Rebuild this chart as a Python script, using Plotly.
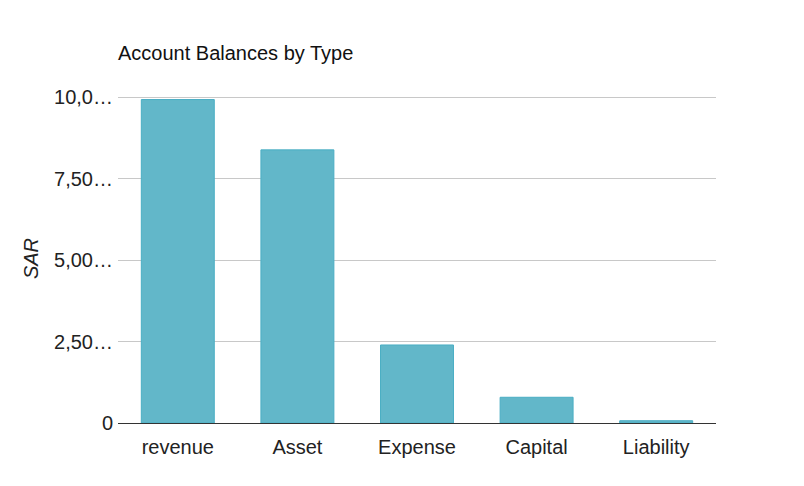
import plotly.graph_objects as go

categories = ["revenue", "Asset", "Expense", "Capital", "Liability"]
balances = [9930, 8385, 2395, 790, 70]
y_tick_vals = [0, 2500, 5000, 7500, 10000]
y_tick_text = ["0", "2,50…", "5,00…", "7,50…", "10,0…"]

fig = go.Figure(
    go.Bar(
        x=categories,
        y=balances,
        marker=dict(color="#62b7c9", line=dict(color="#4aaec4", width=1)),
    )
)

fig.update_layout(
    width=804,
    height=486,
    margin=dict(l=118, r=88, t=94, b=63),
    paper_bgcolor="white",
    plot_bgcolor="white",
    bargap=0.39,
    font=dict(family="Liberation Sans, Arial, sans-serif", size=20, color="#222"),
    title=dict(
        text="Account Balances by Type",
        x=118 / 804,
        xanchor="left",
        y=1 - 53 / 486,
        yanchor="middle",
        font=dict(size=20, color="#111"),
    ),
    showlegend=False,
)

fig.update_yaxes(
    range=[0, 10100],
    tickvals=y_tick_vals,
    ticktext=y_tick_text,
    showgrid=True,
    gridcolor="#c8c8c8",
    gridwidth=1,
    zeroline=False,
    ticks="",
    ticklabelstandoff=4,
    tickfont=dict(size=20, color="#222"),
    title=dict(text="<i>SAR</i>", font=dict(size=20, color="#222"), standoff=10),
)

fig.update_xaxes(
    showline=True,
    linecolor="#333",
    linewidth=1,
    ticks="outside",
    ticklen=6,
    tickcolor="white",
    tickfont=dict(size=20, color="#222"),
)

fig.write_html("out.html")
